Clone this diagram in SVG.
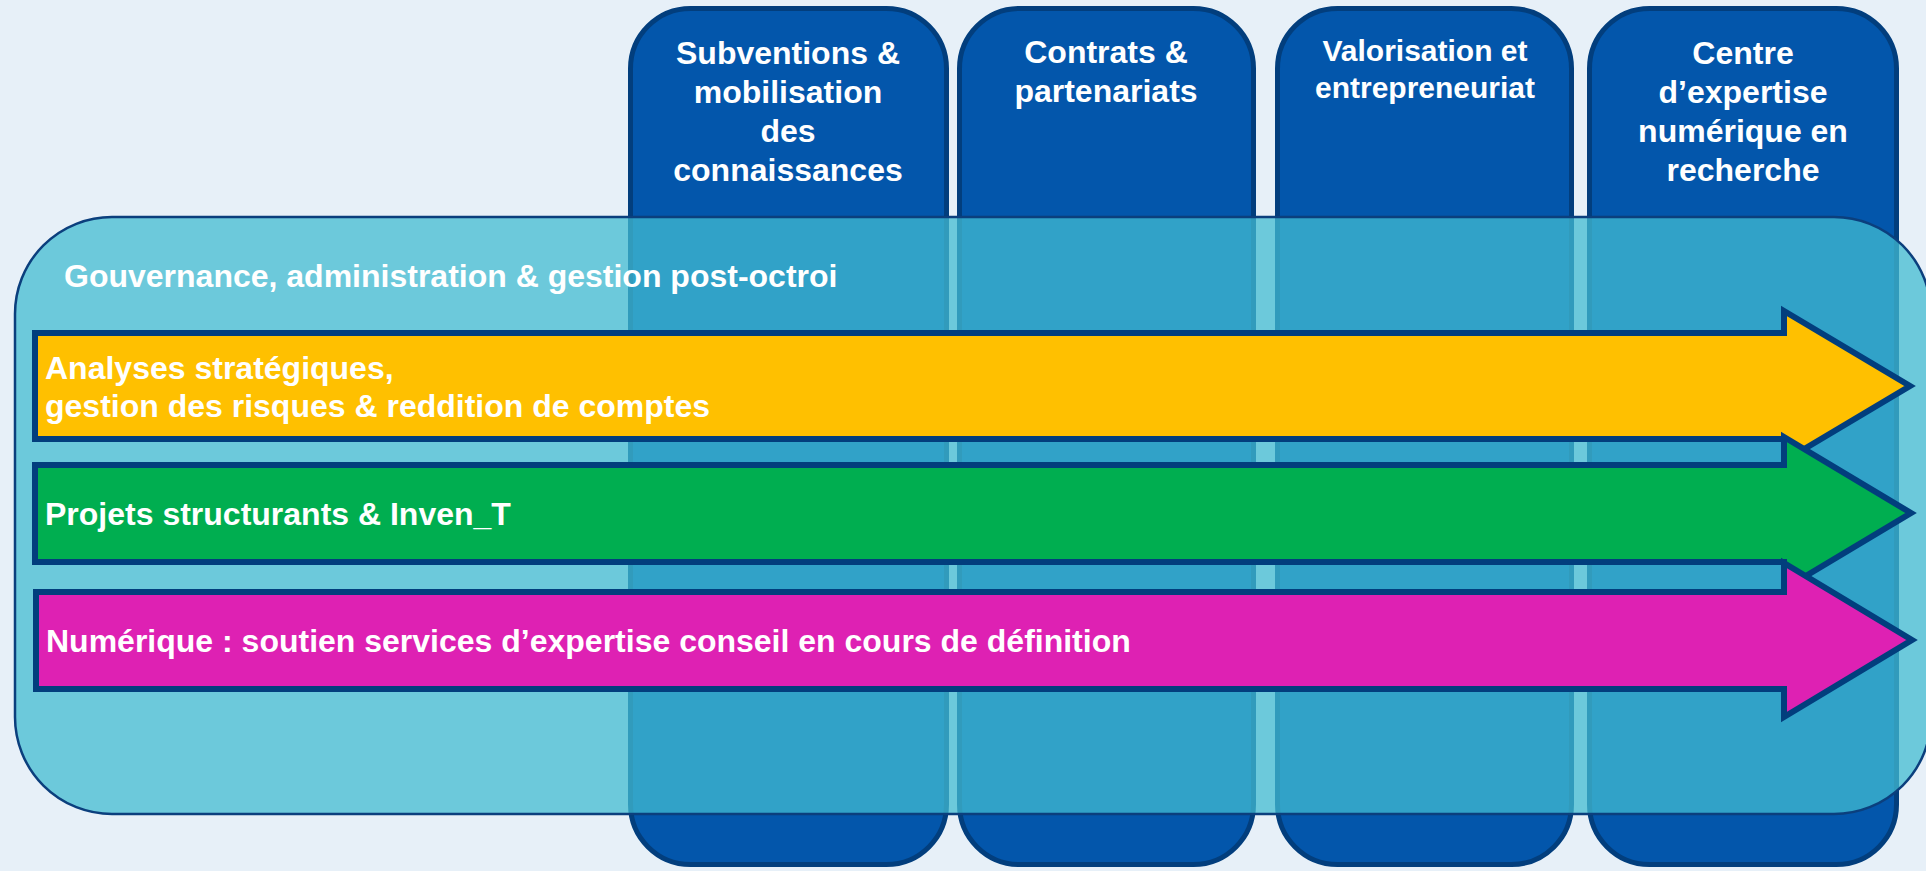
<svg xmlns="http://www.w3.org/2000/svg" width="1926" height="871" viewBox="0 0 1926 871">
<style>
.col{fill:#0356AB;stroke:#023E7D;stroke-width:5}
.band{fill:#42BCD1;fill-opacity:0.745;stroke:#0B3F7D;stroke-width:2.5}
.arrow{stroke:#023E7D;stroke-width:6;stroke-linejoin:miter}
.t{font-family:"Liberation Sans",Arial,sans-serif;font-weight:bold;fill:#FFFFFF;font-size:32px}
.c{text-anchor:middle}
</style>
<rect x="0" y="0" width="1926" height="871" fill="#E7F0F8"/>
<g id="col-subventions">
<rect class="col" x="630.5" y="8.5" width="316" height="856" rx="60" ry="60"/>
<text class="t c" x="788"><tspan x="788" y="64">Subventions &amp;</tspan><tspan x="788" y="103">mobilisation</tspan><tspan x="788" y="142">des</tspan><tspan x="788" y="181">connaissances</tspan></text>
</g>
<g id="col-contrats">
<rect class="col" x="959.5" y="8.5" width="294" height="856" rx="60" ry="60"/>
<text class="t c" x="1106"><tspan x="1106" y="63">Contrats &amp;</tspan><tspan x="1106" y="102">partenariats</tspan></text>
</g>
<g id="col-valorisation">
<rect class="col" x="1277.5" y="8.5" width="294" height="856" rx="60" ry="60"/>
<text class="t c" x="1425" style="font-size:30px"><tspan x="1425" y="61">Valorisation et</tspan><tspan x="1425" y="98">entrepreneuriat</tspan></text>
</g>
<g id="col-centre">
<rect class="col" x="1589.5" y="8.5" width="307" height="856" rx="60" ry="60"/>
<text class="t c" x="1743"><tspan x="1743" y="64">Centre</tspan><tspan x="1743" y="103">d’expertise</tspan><tspan x="1743" y="142">numérique en</tspan><tspan x="1743" y="181">recherche</tspan></text>
</g>
<g id="gouvernance">
<rect class="band" x="15" y="217" width="1916" height="597" rx="97" ry="97"/>
<text class="t" x="64" y="287">Gouvernance, administration &amp; gestion post-octroi</text>
</g>
<g id="connectors">
<g id="arrow-analyses">
<path class="arrow" fill="#FFC000" d="M35,333 H1784 V311 L1910,386 L1784,461 V439 H35 Z"/>
<text class="t"><tspan x="45" y="379">Analyses stratégiques,</tspan><tspan x="45" y="417">gestion des risques &amp; reddition de comptes</tspan></text>
</g>
<g id="arrow-projets">
<path class="arrow" fill="#00AE50" d="M35,465 H1784 V437 L1911,513 L1784,589 V562 H35 Z"/>
<text class="t" x="45" y="525">Projets structurants &amp; Inven_T</text>
</g>
<g id="arrow-numerique">
<path class="arrow" fill="#DE21B3" d="M36,592 H1784 V563 L1912,640 L1784,717 V689 H36 Z"/>
<text class="t" x="46" y="652">Numérique : soutien services d’expertise conseil en cours de définition</text>
</g>
</g>
</svg>
